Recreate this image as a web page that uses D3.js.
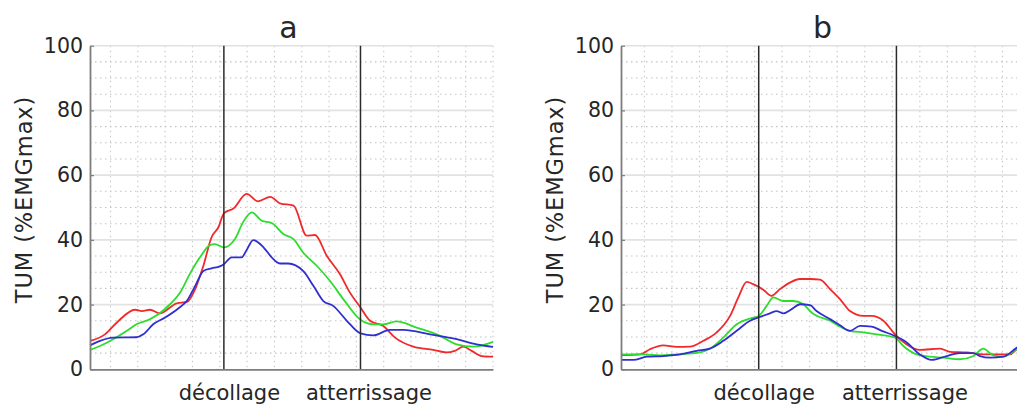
<!DOCTYPE html>
<html>
<head>
<meta charset="utf-8">
<script src="https://cdn.jsdelivr.net/npm/d3@7"></script>
<style>
  html, body { margin: 0; padding: 0; background: #ffffff; }
  svg { display: block; }
  text { font-family: "DejaVu Sans", Verdana, sans-serif; fill: #262626; }
</style>
</head>
<body>
<svg id="chart" width="1017" height="405"></svg>
<script>
// ---------- data ----------
const titles = ["a", "b"];
const yLabel = "TUM (%EMGmax)";
const yTicks = [0, 20, 40, 60, 80, 100];
const yMinor = [5, 10, 15, 25, 30, 35, 45, 50, 55, 65, 70, 75, 85, 90, 95];
const xGrid = [0, 20, 40, 60, 80, 100, 120, 140, 160, 180, 200, 220, 240, 260, 280];
const events = [83, 183];
const eventLabels = ["décollage", "atterrissage"];
const xDomainA = [-15, 280];
const xDomainB = [-17, 280];
const seriesNames = ["rouge", "vert", "bleu"];
const seriesColors = ["#f02a2a", "#2edc2e", "#2f2fd0"];

const aRed = [[-15,8.8],[-4,10.8],[4.5,14.4],[18,18.4],[23,18],[29,18.4],[36,17.3],[48.5,20.4],[56,20.8],[62,24.8],[68,32],[74,40.8],[79,43.9],[83,48.2],[90,49.7],[99.7,54.2],[108,51.9],[117,53.3],[124,51.3],[134,50.6],[143.6,41.3],[149.7,41.5],[158.3,35.1],[168,29.4],[175.3,23.7],[183,19.1],[190,15],[199.7,13.4],[208.3,9.8],[221.7,7],[236.3,6],[246,5.2],[252,5.7],[258.3,7],[264.4,5.7],[271.7,4.1],[280,3.9]];
const aGreen = [[-15,6],[-7.7,7.2],[2,9.3],[12,11.9],[19,13.9],[29,15.5],[36,17.3],[43.6,20.1],[51,23.7],[58,29.4],[65.5,34.6],[72.8,38.4],[76.5,38.7],[83,37.7],[91,40.2],[97,45.4],[103.4,48.5],[110.7,45.9],[118,45.2],[126.5,41.8],[134,40.2],[141,36.1],[151,32],[160.7,27.3],[170.4,21.7],[183,15.3],[192.4,13.9],[199.7,13.9],[209.5,14.8],[224,12.9],[239,10.8],[253.4,7.7],[265.6,7],[280,8.5]];
const aBlue = [[-15,7.4],[-7.7,8.8],[2,9.8],[19,9.9],[24,10.8],[31.3,13.9],[40,16],[49.6,18.8],[55.8,21.1],[62,25.8],[68,30.4],[74,31.2],[80,31.8],[83,32.5],[88.7,34.6],[96,34.6],[99.7,36.9],[104.5,39.9],[112,37.7],[118,34.6],[124,32.7],[130,32.7],[141,30.4],[148.5,25.8],[155.8,21.1],[163,19.6],[173,15],[183,11.1],[192.4,10.5],[204.6,12.2],[214.4,12.2],[234,10.8],[253.4,9.3],[268,7.7],[280,6.9]];

const bRed = [[-17,4.4],[-3,4.6],[4,6.2],[13.7,7.4],[23.5,6.9],[33,7],[42.8,8.8],[52.5,11.4],[62.2,16.5],[68.2,22.2],[74.3,27],[79,26.3],[86.3,24.6],[92.4,22.7],[98.5,24.8],[105.7,26.8],[113,27.9],[120.3,27.9],[127.5,27.7],[134.8,24.8],[142,21.7],[149.3,18],[159,16.5],[165,16.5],[173.5,15],[182,10.8],[190.5,7.7],[200,6],[214.7,6.4],[222,5.4],[234,5.2],[246,4.6],[256,4.6],[265.5,4.6],[270.6,6.2],[280,7.2]];
const bGreen = [[-17,4.6],[-1,4.6],[11.3,4.3],[23.5,4.6],[40.4,5.2],[47.6,6.4],[57.3,9.8],[67,13.9],[76.7,15.7],[82.7,16.4],[88.8,19.6],[93.6,22.2],[101,21.1],[108,21.1],[115.4,20.1],[121.5,17.5],[126.3,16.3],[134.8,15],[142,13.2],[149.3,11.9],[159,11.4],[168.7,10.8],[182,9.8],[188,7.2],[197.7,4.6],[207.4,3.9],[217,3.6],[229,3.1],[239,4.1],[246,6.4],[253.4,4.3],[260.6,3.9],[270.6,6.2],[280,7.5]];
const bBlue = [[-17,2.9],[-8,2.9],[1.7,3.9],[13.7,4.1],[25.8,4.6],[38,5.7],[47.6,6.4],[57.3,8.8],[67,11.9],[76.7,15],[82.7,16],[91.2,17.3],[96,18],[101,17.3],[107,18.6],[113,20.1],[120.3,19.8],[125,18],[134.8,15.5],[142,13.6],[149.3,11.9],[156.6,13.4],[165,13.2],[172.3,11.9],[182,10.3],[190.5,8.3],[200,4.6],[208.6,2.9],[219.5,4.1],[229,5],[239,5],[243.7,4.1],[251,3.6],[260.6,3.9],[270.6,6.7],[280,8.5]];

const panels = [
  { title: titles[0], domain: xDomainA, left: 90, width: 403, series: [aRed, aGreen, aBlue] },
  { title: titles[1], domain: xDomainB, left: 621, width: 409, series: [bRed, bGreen, bBlue] }
];

// ---------- drawing ----------
const svg = d3.select("#chart");
const plotTop = 45.7, plotHeight = 323.6;

panels.forEach(p => {
  const g = svg.append("g").attr("transform", `translate(${p.left},${plotTop})`);
  const x = d3.scaleLinear().domain(p.domain).range([0, p.width]);
  const y = d3.scaleLinear().domain([0, 100]).range([plotHeight, 0]);

  // minor dotted grid
  g.append("g").selectAll("line").data(yMinor).join("line")
    .attr("x1", 0).attr("x2", p.width)
    .attr("y1", d => y(d)).attr("y2", d => y(d))
    .attr("stroke", "#c2c2c2").attr("stroke-width", 1.1)
    .attr("stroke-dasharray", "1.5,3.5");
  g.append("g").selectAll("line").data(xGrid).join("line")
    .attr("x1", d => x(d)).attr("x2", d => x(d))
    .attr("y1", 0).attr("y2", plotHeight)
    .attr("stroke", "#c8c8c8").attr("stroke-width", 1.1)
    .attr("stroke-dasharray", "1.5,3.5");
  // major grid
  g.append("g").selectAll("line").data(yTicks.slice(1)).join("line")
    .attr("x1", 0).attr("x2", p.width)
    .attr("y1", d => y(d)).attr("y2", d => y(d))
    .attr("stroke", "#e2e2e2").attr("stroke-width", 1.6);

  // series
  const line = d3.line().x(d => x(d[0])).y(d => y(d[1])).curve(d3.curveMonotoneX);
  p.series.forEach((s, i) => {
    g.append("path").datum(s)
      .attr("fill", "none")
      .attr("stroke", seriesColors[i])
      .attr("stroke-width", 1.8)
      .attr("stroke-linejoin", "round")
      .attr("d", line);
  });

  // event lines
  g.append("g").selectAll("line").data(events).join("line")
    .attr("x1", d => x(d)).attr("x2", d => x(d))
    .attr("y1", 0).attr("y2", plotHeight)
    .attr("stroke", "#2b2b2b").attr("stroke-width", 1.5);

  // y axis
  const yAxis = g.append("g").call(
    d3.axisLeft(y).tickValues(yTicks).tickSize(-4).tickPadding(7).tickSizeOuter(0)
  );
  yAxis.select(".domain").attr("stroke", "#7d7d7d").attr("stroke-width", 1.8);
  yAxis.selectAll(".tick line").attr("stroke", "#7d7d7d").attr("stroke-width", 1.2);
  yAxis.selectAll(".tick text").style("font-size", "20.5px")
    .style("font-family", "'DejaVu Sans', Verdana, sans-serif").attr("fill", "#262626");

  // x axis
  const xAxis = g.append("g").attr("transform", `translate(0,${plotHeight})`).call(
    d3.axisBottom(x).tickValues(events).tickFormat((d, i) => eventLabels[i])
      .tickSize(0).tickPadding(16).tickSizeOuter(0)
  );
  xAxis.select(".domain").attr("stroke", "#7d7d7d").attr("stroke-width", 1.8);
  xAxis.selectAll(".tick text").style("font-size", "21px")
    .style("font-family", "'DejaVu Sans', Verdana, sans-serif").attr("fill", "#262626")
    .attr("dx", (d, i) => i === 0 ? 5 : 8);

  // title
  g.append("text").attr("x", p.width / 2 - 3).attr("y", -8)
    .attr("text-anchor", "middle").style("font-size", "30px").text(p.title);

  // y label
  g.append("text")
    .attr("transform", `translate(${-58},${y(50) - 8}) rotate(-90)`)
    .attr("text-anchor", "middle").style("font-size", "22.5px")
    .style("letter-spacing", "0.9px").text(yLabel);
});
</script>
</body>
</html>
